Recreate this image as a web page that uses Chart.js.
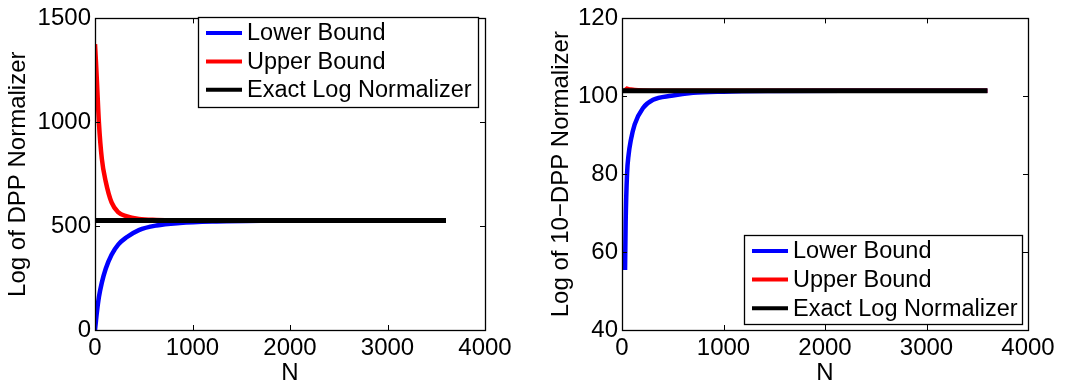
<!DOCTYPE html>
<html>
<head>
<meta charset="utf-8">
<script src="https://cdn.jsdelivr.net/npm/chart.js@4.4.1/dist/chart.umd.min.js"></script>
<style>
body{margin:0;background:#fff;}
#left{position:absolute;left:0;top:0;}
#right{position:absolute;left:533px;top:0;}
</style>
</head>
<body>
<canvas id="left" width="533" height="382"></canvas>
<canvas id="right" width="534" height="382"></canvas>
<script>
'use strict';

// left plot : DPP normalizer
let nLeft = [0, 10, 20, 40, 70, 110, 170, 240, 320, 450, 630, 870, 1200, 1800, 2400, 3000, 3600];
let lowerLeft = [0, 45, 88, 158, 228, 295, 362, 412, 445, 481, 503, 515, 522, 526, 527, 527, 527];
let upperLeft = [1376, 1290, 1195, 1000, 825, 715, 614, 566, 548, 535, 530, 528, 527.5, 527, 527, 527, 527];
let exactLeftN = [0, 3600];
let exactLeft = [527, 527];

// right plot : 10-DPP normalizer
let nRight = [30, 36, 50, 65, 86, 125, 207, 306, 486, 700, 1000, 1500, 2400, 3600];
let lowerRight = [55.4, 67.6, 80.2, 85, 88.6, 92.8, 97.0, 99.1, 100.15, 100.9, 101.2, 101.35, 101.4, 101.4];
let upperRight = [102.3, 102.1, 101.95, 101.85, 101.75, 101.62, 101.5, 101.45, 101.42, 101.4, 101.4, 101.4, 101.4, 101.4];
let exactRightN = [0, 3600];
let exactRight = [101.4, 101.4];

let xTicks = [0, 1000, 2000, 3000, 4000];
let yTicksLeft = [0, 500, 1000, 1500];
let yTicksRight = [40, 60, 80, 100, 120];

let seriesNames = ['Lower Bound', 'Upper Bound', 'Exact Log Normalizer'];
let seriesColors = ['#0000ff', '#ff0000', '#000000'];

let fontFamily = '"Liberation Sans", Arial, Helvetica, sans-serif';
let font = {family: fontFamily, size: 24, lineHeight: 1.2};
let titleFont = {family: fontFamily, size: 24, lineHeight: 1};
let legendSize = 23.5;

function toPoints(xs, ys){
  let pts = [];
  for(let i = 0; i < xs.length; i++){
    pts.push({x: xs[i], y: ys[i]});
  }
  return pts;
}

// MATLAB style box with inward ticks and a boxed legend
let matlabBox = {
  id: 'matlabBox',
  afterDatasetsDraw(chart){
    let ctx = chart.ctx;
    let a = chart.chartArea;
    let sx = chart.scales.x;
    let sy = chart.scales.y;
    ctx.save();
    ctx.strokeStyle = '#000';
    ctx.lineWidth = 1;
    ctx.beginPath();
    sx.ticks.forEach(function(t){
      let px = Math.round(sx.getPixelForValue(t.value)) + 0.5;
      ctx.moveTo(px, a.bottom); ctx.lineTo(px, a.bottom - 5);
      ctx.moveTo(px, a.top); ctx.lineTo(px, a.top + 5);
    });
    sy.ticks.forEach(function(t){
      let py = Math.round(sy.getPixelForValue(t.value)) + 0.5;
      ctx.moveTo(a.left, py); ctx.lineTo(a.left + 5, py);
      ctx.moveTo(a.right, py); ctx.lineTo(a.right - 5, py);
    });
    ctx.stroke();
    ctx.lineWidth = 1.3;
    ctx.strokeRect(Math.round(a.left) + 0.5, Math.round(a.top) + 0.5, Math.round(a.right - a.left), Math.round(a.bottom - a.top));
    ctx.restore();
  },
  afterDraw(chart, args, opts){
    let ctx = chart.ctx;
    let L = opts.legend;
    ctx.save();
    ctx.fillStyle = '#fff';
    ctx.fillRect(L.left, L.top, L.width, L.height);
    ctx.strokeStyle = '#000';
    ctx.lineWidth = 1.3;
    ctx.strokeRect(L.left + 0.5, L.top + 0.5, L.width, L.height);
    ctx.font = legendSize + 'px ' + fontFamily;
    ctx.textBaseline = 'middle';
    ctx.textAlign = 'left';
    for(let i = 0; i < seriesNames.length; i++){
      let y = L.top + L.first + i * L.step;
      ctx.strokeStyle = seriesColors[i];
      ctx.lineWidth = 4;
      ctx.beginPath();
      ctx.moveTo(L.left + 8, y);
      ctx.lineTo(L.left + 44, y);
      ctx.stroke();
      ctx.fillStyle = '#000';
      ctx.fillText(seriesNames[i], L.left + 49, y + 1);
    }
    ctx.restore();
  }
};

function plainLabel(v){
  return String(v);
}

function makeChart(id, lower, upper, nVals, exactN, exact, yTicks, yTitle, yWidth, titlePad, pad, legend){
  let ctx = document.getElementById(id).getContext('2d');
  return new Chart(ctx, {
    type: 'line',
    data: {
      datasets: [{
        label: seriesNames[0],
        data: toPoints(nVals, lower),
        borderColor: seriesColors[0],
        borderWidth: 4.5,
        order: 2
      }, {
        label: seriesNames[1],
        data: toPoints(nVals, upper),
        borderColor: seriesColors[1],
        borderWidth: 4.5,
        order: 1
      }, {
        label: seriesNames[2],
        data: toPoints(exactN, exact),
        borderColor: seriesColors[2],
        borderWidth: 5,
        order: 0
      }]
    },
    options: {
      responsive: false,
      animation: false,
      devicePixelRatio: 1,
      layout: {padding: pad},
      elements: {
        point: {radius: 0},
        line: {cubicInterpolationMode: 'monotone', borderCapStyle: 'butt'}
      },
      plugins: {
        legend: {display: false},
        tooltip: {enabled: false},
        matlabBox: {legend: legend}
      },
      scales: {
        x: {
          type: 'linear',
          min: xTicks[0],
          max: xTicks[xTicks.length - 1],
          afterBuildTicks: function(s){ s.ticks = xTicks.map(function(v){ return {value: v}; }); },
          afterFit: function(s){ s.height = 52; },
          grid: {display: false, drawTicks: false},
          border: {display: false},
          ticks: {font: font, color: '#000', padding: 4, maxRotation: 0, callback: plainLabel},
          title: {display: true, text: 'N', font: titleFont, color: '#000', padding: {top: 0, bottom: -3}}
        },
        y: {
          type: 'linear',
          min: yTicks[0],
          max: yTicks[yTicks.length - 1],
          afterBuildTicks: function(s){ s.ticks = yTicks.map(function(v){ return {value: v}; }); },
          afterFit: function(s){ s.width = yWidth; },
          grid: {display: false, drawTicks: false},
          border: {display: false},
          ticks: {font: font, color: '#000', padding: 4, callback: plainLabel},
          title: {display: true, text: yTitle, font: font, color: '#000', padding: {top: titlePad, bottom: 0}}
        }
      }
    },
    plugins: [matlabBox]
  });
}

makeChart('left', lowerLeft, upperLeft, nLeft, exactLeftN, exactLeft, yTicksLeft,
  'Log of DPP Normalizer', 95, 4, {left: 0, right: 48, top: 12, bottom: 0},
  {left: 198, top: 17, width: 280, height: 90, first: 16, step: 28.4});

makeChart('right', lowerRight, upperRight, nRight, exactRightN, exactRight, yTicksRight,
  'Log of 10\u2212DPP Normalizer', 89, 14, {left: 0, right: 39, top: 12, bottom: 0},
  {left: 211, top: 235, width: 278, height: 89, first: 16, step: 28.6});
</script>
</body>
</html>
